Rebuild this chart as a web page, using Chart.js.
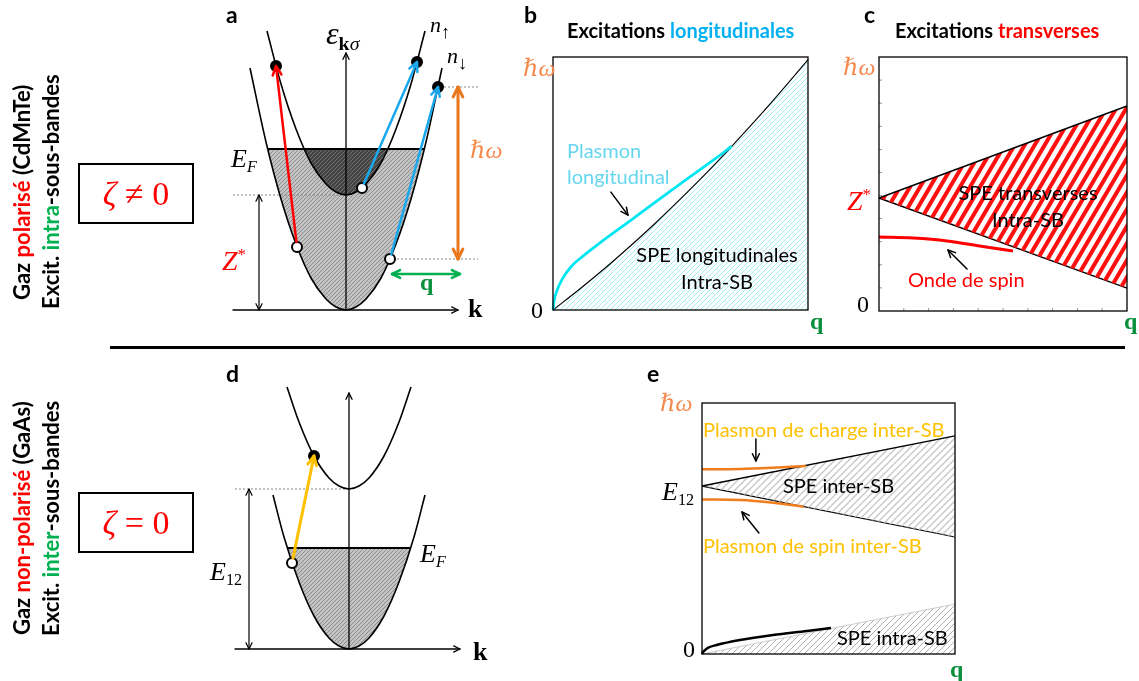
<!DOCTYPE html>
<html>
<head>
<meta charset="utf-8">
<script src="https://cdn.jsdelivr.net/npm/chart.js@4.4.0/dist/chart.umd.min.js"></script>
<style>
html, body { margin: 0; padding: 0; background: #fff; }
#page { position: relative; width: 1139px; height: 681px; overflow: hidden; }
canvas { position: absolute; left: 0; top: 0; }
.t { position: absolute; white-space: nowrap; line-height: normal; }
.s { font-family: Lato, "Open Sans", sans-serif; }
.m { font-family: "Liberation Serif", "DejaVu Serif", serif; font-style: italic; }
.r { font-family: "Liberation Serif", "DejaVu Serif", serif; }
sub { font-size: 0.62em; vertical-align: -0.3em; line-height: 0; }
sup { font-size: 0.6em; vertical-align: 0.6em; line-height: 0; }
.side { position: absolute; writing-mode: vertical-rl; transform: rotate(180deg); text-align: center;
        font-family: Lato, "Open Sans", sans-serif; font-weight: bold; font-size: 22px; white-space: nowrap; }
.zbox { position: absolute; width: 116px; height: 61px; border: 2px solid #000; box-sizing: border-box;
        display: flex; align-items: center; justify-content: center; color: #ff0000;
        font-family: "Liberation Serif", "DejaVu Serif", serif; font-size: 34px; }
</style>
</head>
<body>
<div id="page">
  <canvas id="ca" width="1139" height="681"></canvas>
  <canvas id="cb" width="1139" height="681"></canvas>
  <canvas id="cc" width="1139" height="681"></canvas>
  <canvas id="cd" width="1139" height="681"></canvas>
  <canvas id="ce" width="1139" height="681"></canvas>
</div>
<script>
// ---- panel a : bandes de spin (k, E) ----
const aOuterK = [-9.6, -8, -6.5, -5, -3.5, -2, -1, 0, 1, 2, 3.5, 5, 6.5, 8, 9.6];
const aOuterE = [24.2, 16.8, 11.1, 6.6, 3.2, 1.1, 0.3, 0, 0.3, 1.1, 3.2, 6.6, 11.1, 16.8, 24.2];
const aInnerK = [-7.9, -6.5, -5, -3.5, -2, -1, 0, 1, 2, 3.5, 5, 6.5, 7.9];
const aInnerE = [27.9, 22.6, 18.1, 14.7, 12.6, 11.8, 11.5, 11.8, 12.6, 14.7, 18.1, 22.6, 27.9];
const aFermi = 16.1;
const aZeeman = 11.5;
const aSeaK = [-7.82, -6.5, -5, -3.5, -2, -1, 0, 1, 2, 3.5, 5, 6.5, 7.82];
const aSeaE = [16.1, 11.1, 6.6, 3.2, 1.1, 0.3, 0, 0.3, 1.1, 3.2, 6.6, 11.1, 16.1];
const aUpSeaK = [-4.18, -3, -2, -1, 0, 1, 2, 3, 4.18];
const aUpSeaE = [16.1, 13.9, 12.6, 11.8, 11.5, 11.8, 12.6, 13.9, 16.1];
const aFullK = [-7.0, 7.1, 9.2];
const aFullE = [24.4, 24.8, 22.3];
const aHoleK = [-4.9, 1.6, 4.4];
const aHoleE = [6.3, 12.2, 5.1];

// ---- panel b : excitations longitudinales (q, hw) ----
const bSpeQ = [0, 0.1, 0.2, 0.3, 0.4, 0.5, 0.6, 0.7, 0.8, 0.9, 1];
const bSpeW = [0, 0.079, 0.162, 0.250, 0.342, 0.439, 0.540, 0.646, 0.756, 0.871, 0.99];
const bPlasQ = [0, 0.005, 0.015, 0.035, 0.07, 0.12, 0.197, 0.302, 0.40, 0.522, 0.60, 0.65, 0.70];
const bPlasW = [0, 0.04, 0.075, 0.12, 0.17, 0.215, 0.275, 0.352, 0.425, 0.515, 0.572, 0.608, 0.648];

// ---- panel c : excitations transverses ----
const cEdgeQ = [0, 1];
const cUpW = [0.445, 0.807];
const cLowW = [0.445, 0.09];
const cSpinQ = [0, 0.137, 0.274, 0.407, 0.54];
const cSpinW = [0.291, 0.287, 0.276, 0.256, 0.236];
const cTickQ = [0.1, 0.2, 0.3, 0.4, 0.5, 0.6, 0.7, 0.8, 0.9];
const cTickW = [0.091, 0.182, 0.273, 0.364, 0.455, 0.545, 0.636, 0.727, 0.818, 0.909];

// ---- panel d : deux sous-bandes ----
const dLowK = [-7.6, -6.5, -5, -3.5, -2, -1, 0, 1, 2, 3.5, 5, 6.5, 7.6];
const dLowE = [15.4, 11.2, 6.7, 3.3, 1.1, 0.3, 0, 0.3, 1.1, 3.3, 6.7, 11.2, 15.4];
const dUpK = [-6.2, -5, -3.5, -2, -1, 0, 1, 2, 3.5, 5, 6.2];
const dUpE = [26.2, 22.7, 19.3, 17.1, 16.3, 16, 16.3, 17.1, 19.3, 22.7, 26.2];
const dSeaK = [-6.16, -5, -3.5, -2, -1, 0, 1, 2, 3.5, 5, 6.16];
const dSeaE = [10.1, 6.7, 3.3, 1.1, 0.3, 0, 0.3, 1.1, 3.3, 6.7, 10.1];
const dFermi = 10.1;
const dE12 = 16;

// ---- panel e : excitations inter-sous-bandes ----
const eEdgeQ = [0, 1];
const eUpW = [0.669, 0.869];
const eLowW = [0.669, 0.466];
const eChargeQ = [0, 0.151, 0.283, 0.411];
const eChargeW = [0.736, 0.737, 0.742, 0.749];
const eSpinQ = [0, 0.151, 0.283, 0.401];
const eSpinW = [0.616, 0.614, 0.603, 0.587];
const eIntraW = [0, 0.199];
const eIntraPlasQ = [0, 0.004, 0.009, 0.025, 0.058, 0.15, 0.281, 0.415, 0.51];
const eIntraPlasW = [0, 0.008, 0.013, 0.025, 0.036, 0.056, 0.076, 0.092, 0.104];

const W = 1139, H = 681;
const pts = (xs, ys) => xs.map((x, i) => ({x: x, y: ys[i]}));

//make a "////" hatch pattern
function hatch(bg, col, w, h, lw) {
  const c = document.createElement('canvas');
  c.width = w; c.height = h;
  const g = c.getContext('2d');
  if (bg) { g.fillStyle = bg; g.fillRect(0, 0, w, h); }
  g.strokeStyle = col; g.lineWidth = lw;
  g.beginPath();
  for (let t = -1; t <= 1; t++) {
    g.moveTo(t * w - w, 2 * h);
    g.lineTo(t * w + 2 * w, -h);
  }
  g.stroke();
  return document.createElement('canvas').getContext('2d').createPattern(c, 'repeat');
}

function head(ctx, x, y, ang, len) {
  ctx.beginPath();
  ctx.moveTo(x - len * Math.cos(ang - 0.45), y - len * Math.sin(ang - 0.45));
  ctx.lineTo(x, y);
  ctx.lineTo(x - len * Math.cos(ang + 0.45), y - len * Math.sin(ang + 0.45));
  ctx.stroke();
}

function drawArrow(ctx, sx, sy, a) {
  let x1 = sx.getPixelForValue(a.from[0]), y1 = sy.getPixelForValue(a.from[1]);
  const x2 = sx.getPixelForValue(a.to[0]), y2 = sy.getPixelForValue(a.to[1]);
  const ang = Math.atan2(y2 - y1, x2 - x1);
  if (a.gap) { x1 += Math.cos(ang) * a.gap; y1 += Math.sin(ang) * a.gap; }
  ctx.save();
  ctx.strokeStyle = a.color || '#000';
  ctx.lineWidth = a.width || 1.3;
  ctx.lineCap = 'round'; ctx.lineJoin = 'round';
  ctx.beginPath(); ctx.moveTo(x1, y1); ctx.lineTo(x2, y2); ctx.stroke();
  head(ctx, x2, y2, ang, a.head || 8);
  if (a.both) head(ctx, x1, y1, ang + Math.PI, a.head || 8);
  ctx.restore();
}

function deco(cfg) {
  return {
    id: 'deco',
    afterDatasetsDraw(chart) {
      const ctx = chart.ctx, ar = chart.chartArea;
      const sx = chart.scales.x, sy = chart.scales.y;
      ctx.save();
      if (cfg.ticks) {
        ctx.strokeStyle = '#9a9a9a'; ctx.lineWidth = 1;
        ctx.beginPath();
        cfg.ticks.x.forEach(v => { const p = sx.getPixelForValue(v); ctx.moveTo(p, ar.bottom); ctx.lineTo(p, ar.bottom - 3); });
        cfg.ticks.y.forEach(v => { const p = sy.getPixelForValue(v); ctx.moveTo(ar.left, p); ctx.lineTo(ar.left + 3, p); });
        ctx.stroke();
      }
      if (cfg.box) {
        ctx.strokeStyle = '#000'; ctx.lineWidth = 1.3;
        ctx.strokeRect(ar.left, ar.top, ar.right - ar.left, ar.bottom - ar.top);
      }
      ctx.restore();
      (cfg.arrows || []).forEach(a => drawArrow(ctx, sx, sy, a));
    }
  };
}

function opts(area, xr, yr) {
  return {
    responsive: false,
    animation: false,
    events: [],
    layout: { padding: { left: area[0], top: area[1], right: W - area[2], bottom: H - area[3] } },
    plugins: { legend: { display: false }, tooltip: { enabled: false }, title: { display: false } },
    scales: {
      x: { type: 'linear', min: xr[0], max: xr[1], display: false },
      y: { type: 'linear', min: yr[0], max: yr[1], display: false }
    }
  };
}

function line(data, color, width, extra) {
  return Object.assign({ data: data, borderColor: color, borderWidth: width, pointRadius: 0,
    fill: false, clip: false, order: 5 }, extra || {});
}
function area(data, pattern, fill, extra) {
  return Object.assign({ data: data, borderColor: 'rgba(0,0,0,0)', borderWidth: 1, pointRadius: 0,
    backgroundColor: pattern, fill: fill, clip: false, order: 20 }, extra || {});
}
function dots(data, bg) {
  return { data: data, showLine: false, pointRadius: 5, pointBackgroundColor: bg, pointBorderColor: '#000',
    pointBorderWidth: 2, clip: false, order: 0 };
}
const mono = { cubicInterpolationMode: 'monotone' };

// ---------- panel a ----------
new Chart(document.getElementById('ca'), {
  type: 'line',
  data: { datasets: [
    area(pts(aSeaK, aSeaE), hatch('#c3c3c3', '#8e8e8e', 4, 4, 1), { value: aFermi }, mono),
    area(pts(aUpSeaK, aUpSeaE), hatch('#444', '#707070', 4, 4, 1), { value: aFermi }, Object.assign({ order: 19 }, mono)),
    line(pts([aSeaK[0], aSeaK[aSeaK.length - 1]], [aFermi, aFermi]), '#000', 2.2),
    line(pts(aOuterK, aOuterE), '#000', 1.6, mono),
    line(pts(aInnerK, aInnerE), '#000', 1.6, mono),
    line(pts([-11.3, 0], [aZeeman, aZeeman]), '#888', 1, { borderDash: [2, 2] }),
    line(pts([9.4, 13.2], [22.3, 22.3]), '#888', 1, { borderDash: [2, 2] }),
    line(pts([4.7, 13.2], [5.1, 5.1]), '#888', 1, { borderDash: [2, 2] }),
    dots(pts(aFullK, aFullE), '#000'),
    dots(pts(aHoleK, aHoleE), '#fff')
  ] },
  options: opts([226, 20, 486, 320], [-12, 14], [-1, 29]),
  plugins: [deco({ arrows: [
    { from: [0, 0], to: [0, 25.7], width: 1.3, head: 7 },
    { from: [-11.3, 0], to: [11.2, 0], width: 1.3, head: 7 },
    { from: [-8.7, 0], to: [-8.7, aZeeman], width: 1.2, head: 7, both: true },
    { from: [-4.9, 6.3], to: [-7.0, 24.4], color: '#ff0000', width: 2.5, head: 10, gap: 5 },
    { from: [1.6, 12.2], to: [7.1, 24.8], color: '#1aa8ec', width: 2.5, head: 10, gap: 5 },
    { from: [4.4, 5.1], to: [9.2, 22.3], color: '#1aa8ec', width: 2.5, head: 10, gap: 5 },
    { from: [11.2, 5.1], to: [11.2, 22.3], color: '#e8771e', width: 3, head: 11, both: true },
    { from: [4.6, 3.6], to: [11.4, 3.6], color: '#00b050', width: 2.5, head: 9, both: true }
  ] })]
});

// ---------- panel b ----------
new Chart(document.getElementById('cb'), {
  type: 'line',
  data: { datasets: [
    area(pts(bSpeQ, bSpeW), hatch(null, '#a6ecf6', 5, 5, 1), 'origin', Object.assign({ borderColor: '#000', borderWidth: 1.1 }, mono)),
    line(pts(bPlasQ, bPlasW), '#00e6f2', 2.8, Object.assign({ order: 1 }, mono))
  ] },
  options: opts([553, 57, 808, 310], [0, 1], [0, 1]),
  plugins: [deco({ box: true, arrows: [
    { from: [0.227, 0.466], to: [0.294, 0.375], width: 1.5, head: 8 }
  ] })]
});

// ---------- panel c ----------
new Chart(document.getElementById('cc'), {
  type: 'line',
  data: { datasets: [
    line(pts(cEdgeQ, cUpW), '#000', 1.5, { fill: '+1', backgroundColor: hatch(null, '#ff1010', 10, 17, 4) }),
    line(pts(cEdgeQ, cLowW), '#000', 1.5),
    line(pts(cSpinQ, cSpinW), '#ff0000', 3, Object.assign({ order: 1 }, mono))
  ] },
  options: opts([879, 57, 1127, 311], [0, 1], [0, 1]),
  plugins: [deco({ box: true, ticks: { x: cTickQ, y: cTickW }, arrows: [
    { from: [0.355, 0.165], to: [0.278, 0.240], width: 1.5, head: 8 }
  ] })]
});

// ---------- panel d ----------
new Chart(document.getElementById('cd'), {
  type: 'line',
  data: { datasets: [
    area(pts(dSeaK, dSeaE), hatch('#c3c3c3', '#8e8e8e', 4, 4, 1), { value: dFermi }, mono),
    line(pts([dSeaK[0], dSeaK[dSeaK.length - 1]], [dFermi, dFermi]), '#000', 2.2),
    line(pts(dLowK, dLowE), '#000', 1.6, mono),
    line(pts(dUpK, dUpE), '#000', 1.6, mono),
    line(pts([-11.4, 0], [dE12, dE12]), '#888', 1, { borderDash: [2, 2] }),
    dots(pts([-3.5], [19.3]), '#000'),
    dots(pts([-5.7], [8.6]), '#fff')
  ] },
  options: opts([229, 369, 489, 659], [-12, 14], [-1, 28]),
  plugins: [deco({ arrows: [
    { from: [0, 0], to: [0, 25.6], width: 1.3, head: 7 },
    { from: [-11.4, 0], to: [11.1, 0], width: 1.3, head: 7 },
    { from: [-10, 0], to: [-10, dE12], width: 1.2, head: 7, both: true },
    { from: [-5.7, 8.6], to: [-3.5, 19.3], color: '#ffc000', width: 3, head: 10, gap: 5 }
  ] })]
});

// ---------- panel e ----------
new Chart(document.getElementById('ce'), {
  type: 'line',
  data: { datasets: [
    line(pts(eEdgeQ, eUpW), '#000', 1.5, { fill: '+1', backgroundColor: hatch(null, '#c8c8c8', 7, 7, 1.4) }),
    line(pts(eEdgeQ, eLowW), '#000', 1.2),
    area(pts(eEdgeQ, eIntraW), hatch(null, '#b0b0b0', 6, 6, 1), 'origin', { borderColor: '#c0c0c0', borderWidth: 0.8 }),
    line(pts(eChargeQ, eChargeW), '#f07d1e', 2.5, Object.assign({ order: 1 }, mono)),
    line(pts(eSpinQ, eSpinW), '#f07d1e', 2.5, Object.assign({ order: 1 }, mono)),
    line(pts(eIntraPlasQ, eIntraPlasW), '#000', 2.5, Object.assign({ order: 1 }, mono))
  ] },
  options: opts([702, 403, 955, 654], [0, 1], [0, 1]),
  plugins: [deco({ box: true, arrows: [
    { from: [0.213, 0.857], to: [0.213, 0.769], width: 1.5, head: 8 },
    { from: [0.225, 0.482], to: [0.158, 0.566], width: 1.5, head: 8 }
  ] })]
});

// ---------- texts ----------
const page = document.getElementById('page');
const ASC = { s: 0.987, m: 0.891, r: 0.891 };
function put(html, x, base, size, cls, css, center) {
  const d = document.createElement('div');
  d.className = 't ' + cls;
  d.style.left = x + 'px';
  d.style.top = (base - ASC[cls] * size) + 'px';
  d.style.fontSize = size + 'px';
  if (center) d.style.transform = 'translateX(-50%)';
  if (css) d.style.cssText += css;
  d.innerHTML = html;
  page.appendChild(d);
}
const B = 'font-weight:bold;';
const ORANGE = 'color:#f4894b;';
const QG = 'font-weight:bold;color:#0a8f3c;';
const Y = 'color:#ffc000;';
const ARW = '<sub style="font-style:normal;font-size:0.85em">';

// panel labels
put('a', 226, 23, 23, 's', B);
put('b', 524, 23, 23, 's', B);
put('c', 864, 23, 23, 's', B);
put('d', 226, 382, 23, 's', B);
put('e', 647, 382, 23, 's', B);

// a
put('ε<sub><b style="font-style:normal">k</b>σ</sub>', 326, 44, 32, 'm');
put('n' + ARW + '↑</sub>', 430, 32, 22, 'm');
put('n' + ARW + '↓</sub>', 447, 63, 22, 'm');
put('E<sub>F</sub>', 231, 167, 26, 'm');
put('ℏω', 470, 157, 24, 'm', ORANGE);
put('Z<sup style="font-style:normal">*</sup>', 222, 270, 28, 'm', 'color:#ff0000;');
put('q', 420, 290, 24, 'r', QG);
put('k', 468, 317, 26, 'r', B);

// b
put('Excitations <span style="color:#00b0f0">longitudinales</span>', 567, 38, 20, 's', B);
put('ℏω', 523, 75, 24, 'm', ORANGE);
put('0', 531, 318, 24, 'r');
put('q', 810, 329, 24, 'r', QG);
put('Plasmon', 567, 158, 20, 's', 'color:#66d6ef;');
put('longitudinal', 567, 184, 20, 's', 'color:#66d6ef;');
put('SPE longitudinales', 717, 262, 20, 's', '', true);
put('Intra-SB', 717, 289, 20, 's', '', true);

// c
put('Excitations <span style="color:#ff0000">transverses</span>', 895, 38, 20, 's', B);
put('ℏω', 843, 74, 24, 'm', ORANGE);
put('Z<sup style="font-style:normal">*</sup>', 847, 210, 28, 'm', 'color:#ff0000;');
put('0', 857, 312, 24, 'r');
put('q', 1124, 329, 24, 'r', QG);
put('SPE transverses', 1028, 200, 20, 's', '', true);
put('Intra-SB', 1028, 227, 20, 's', '', true);
put('Onde de spin', 908, 287, 20, 's', 'color:#ff0000;');

// d
put('E<sub>F</sub>', 420, 562, 26, 'm');
put('E<sub style="font-style:normal">12</sub>', 210, 580, 26, 'm');
put('k', 473, 660, 26, 'r', B);

// e
put('ℏω', 660, 410, 24, 'm', ORANGE);
put('E<sub style="font-style:normal">12</sub>', 662, 500, 26, 'm');
put('0', 683, 657, 24, 'r');
put('q', 950, 677, 24, 'r', QG);
put('Plasmon de charge inter-SB', 703, 437, 20, 's', Y);
put('Plasmon de spin inter-SB', 703, 553, 20, 's', Y);
put('SPE inter-SB', 783, 493, 20, 's');
put('SPE intra-SB', 837, 645, 20, 's');

// left side labels
function side(html, cx, cy) {
  const d = document.createElement('div');
  d.className = 'side';
  d.style.left = (cx - 13) + 'px';
  d.style.top = (cy - 140) + 'px';
  d.style.height = '280px';
  d.innerHTML = html;
  page.appendChild(d);
}
side('Gaz <span style="color:#ff0000">polarisé</span> (CdMnTe)', 21, 192);
side('Excit. <span style="color:#00b050">intra</span>-sous-bandes', 50, 192);
side('Gaz <span style="color:#ff0000">non-polarisé</span> (GaAs)', 21, 518);
side('Excit. <span style="color:#00b050">inter</span>-sous-bandes', 50, 518);

function zbox(html, top) {
  const d = document.createElement('div');
  d.className = 'zbox';
  d.style.left = '78px';
  d.style.top = top + 'px';
  d.innerHTML = html;
  page.appendChild(d);
}
zbox('<i>ζ</i>&nbsp;≠&nbsp;0', 163);
zbox('<i>ζ</i>&nbsp;=&nbsp;0', 492);

// separator
const sep = document.createElement('div');
sep.style.cssText = 'position:absolute;left:110px;top:346px;width:1015px;height:3px;background:#000;';
page.appendChild(sep);
</script>
</body>
</html>
